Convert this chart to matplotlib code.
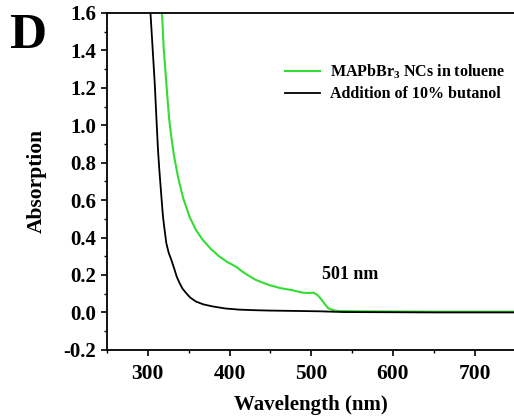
import numpy as np
import matplotlib
matplotlib.use("Agg")
import matplotlib.pyplot as plt
from matplotlib.ticker import MultipleLocator, FuncFormatter

plt.rcParams['font.family'] = 'Liberation Serif'
plt.rcParams['font.weight'] = 'bold'
plt.rcParams['mathtext.fontset'] = 'custom'
plt.rcParams['mathtext.rm'] = 'Liberation Serif:bold'
plt.rcParams['mathtext.bf'] = 'Liberation Serif:bold'

# MAPbBr3 NCs in toluene (green)
wl_green = [316.8, 317.4, 319.5, 322.7, 326, 329, 332, 336.9, 343, 351, 359, 367.2,
            377, 387.5, 397, 407.8, 415.8, 424, 432, 448, 462, 476.6, 488.7, 496,
            503, 508, 513, 517, 521, 527, 533, 560, 600, 650, 700, 750]
abs_green = [1.7, 1.6, 1.41, 1.225, 1.04, 0.93, 0.84, 0.726, 0.615, 0.512, 0.44, 0.388,
             0.34, 0.299, 0.27, 0.245, 0.218, 0.195, 0.174, 0.147, 0.13, 0.119, 0.106, 0.104,
             0.105, 0.092, 0.066, 0.042, 0.022, 0.012, 0.008, 0.006, 0.005, 0.004, 0.004, 0.004]

# Addition of 10% butanol (black)
wl_black = [302.8, 303.3, 305.8, 308.5, 311, 312.5, 314, 315.4, 317, 318.6, 320.6,
            322.7, 325.5, 328.8, 332.8, 335.5, 338.9, 342.5, 347, 352, 359, 368,
            379.4, 395, 411.8, 430, 448, 480, 510, 540, 600, 650, 700, 750]
abs_black = [1.7, 1.6, 1.42, 1.225, 1.0, 0.869, 0.77, 0.69, 0.6, 0.512, 0.44,
             0.37, 0.32, 0.281, 0.228, 0.19, 0.157, 0.127, 0.103, 0.079, 0.058, 0.043,
             0.032, 0.021, 0.015, 0.012, 0.01, 0.008, 0.006, 0.002, 0.001, 0.0, 0.0, 0.0]

fig = plt.figure(figsize=(5.14, 4.17), dpi=100)
ax = fig.add_axes([0.208, 0.161, 0.795, 0.808])

ax.plot(wl_green, abs_green, color='#33dd33', lw=1.5, label='MAPbBr$_3$ NCs in toluene')
ax.plot(wl_black, abs_black, color='black', lw=1.3, label='Addition of 10% butanol')

ax.set_xlim(250, 750)
ax.set_ylim(-0.2, 1.6)
ax.set_xticks([300, 400, 500, 600, 700])
ax.xaxis.set_minor_locator(MultipleLocator(50))
ax.yaxis.set_major_locator(MultipleLocator(0.2))
ax.yaxis.set_minor_locator(MultipleLocator(0.1))
ax.yaxis.set_major_formatter(FuncFormatter(lambda v, p: '%.1f' % v))
ax.tick_params(which='major', direction='out', length=4, width=1.2)
ax.tick_params(which='minor', direction='out', length=2.5, width=1.0)
ax.tick_params(axis='y', labelsize=15)
ax.tick_params(axis='x', labelsize=15.5, pad=6)
for s in ['left', 'bottom', 'top']:
    ax.spines[s].set_linewidth(1.3)
ax.spines['right'].set_visible(False)

ax.set_xlabel('Wavelength (nm)', fontsize=15, fontweight='bold', labelpad=8)
ax.set_ylabel('Absorption', fontsize=15.5, fontweight='bold', labelpad=12)

ax.text(513, 0.205, '501 nm', fontsize=13, fontweight='bold', va='center', ha='left')

leg = ax.legend(loc='upper right', bbox_to_anchor=(1.01, 0.895), frameon=False,
                fontsize=11.5, handlelength=2.2, handletextpad=0.6, labelspacing=0.3)

fig.text(0.018, 0.885, 'D', fontsize=37, fontweight='bold')

fig.savefig('out.png', dpi=100)
